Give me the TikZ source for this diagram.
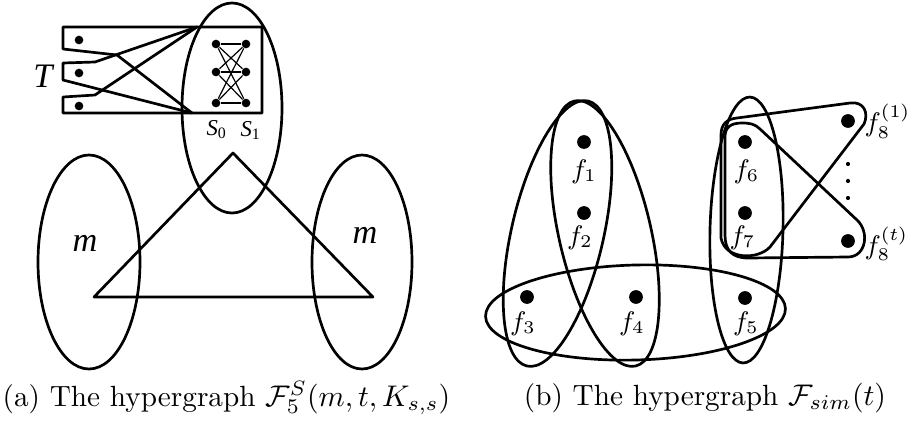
\documentclass[tikz,border=0pt]{standalone}
\usepackage{amsfonts,amsmath,amssymb}
\usepackage{fontspec}
\newfontfamily\figfont{Liberation Serif}
\usepackage{tikz}
\tikzset{
  hedge/.style={line width=0.9pt},
  kedge/.style={line width=0.4pt},
  vtx/.style={circle,fill,inner sep=0pt,minimum size=4.6pt},
  tvtx/.style={circle,fill,inner sep=0pt,minimum size=2.9pt},
  ddot/.style={circle,fill,inner sep=0pt,minimum size=1.4pt},
  flab/.style={inner sep=0pt,font=\fontsize{9}{10}\selectfont},
  slab/.style={inner sep=0pt,font=\fontsize{7.6}{9}\selectfont\figfont\itshape},
  mlab/.style={inner sep=0pt,font=\fontsize{11.5}{13}\selectfont\figfont\itshape},
  captext/.style={inner sep=1pt,font=\fontsize{9.8}{12}\selectfont}
}
\begin{document}
\begin{tikzpicture}[x=0.335pt,y=-0.335pt,line join=round]
\useasboundingbox (0,0) rectangle (915,431);
% (a) the hypergraph F_5^S
\draw[hedge] (232,108) ellipse [x radius=50,y radius=105];
\draw[hedge] (89,262) ellipse [x radius=51,y radius=107];
\draw[hedge] (362,262) ellipse [x radius=50,y radius=107];
\draw[hedge] (233,153)--(94,297)--(373,297)--cycle;
\node[mlab] (ml) at (85,243) {m};
\node[mlab] (mr) at (365,235) {m};
% tabs of T and the box of S
\draw[hedge] (197,27)--(262,27)--(262,113)--(63,113)--(63,97)--(95,95)--cycle;
\draw[hedge] (197,27)--(63,27)--(63,49)--(117,55)--(192,113);
\draw[hedge] (197,27)--(95,62)--(63,63)--(63,80)--(192,113);
\node[tvtx] (t1) at (79,40) {};
\node[tvtx] (t2) at (79,73) {};
\node[tvtx] (t3) at (79,106) {};
\node[mlab] (T) at (43,76) {T};
\foreach \y [count=\i] in {44,72,103}{
  \node[tvtx] (s0\i) at (216,\y) {};
  \node[tvtx] (s1\i) at (246,\y) {};
}
\foreach \i in {1,2,3}
  \foreach \j in {1,2,3}
    \draw[kedge] (s0\i)--(s1\j);
\node[slab] (S0) at (217,130) {S\textsubscript{\upshape 0}};
\node[slab] (S1) at (251,130) {S\textsubscript{\upshape 1}};
% (b) the hypergraph F_sim
\draw[hedge,rotate around={-13:(557.5,233.5)}] (557.5,233.5) ellipse [x radius=46,y radius=136];
\draw[hedge,rotate around={13:(605,233.5)}] (605,233.5) ellipse [x radius=46,y radius=136];
\draw[hedge,rotate around={1.5:(635.5,312.5)}] (635.5,312.5) ellipse [x radius=150,y radius=47.5];
\draw[hedge,rotate around={-1.5:(746.5,230)}] (746.5,230) ellipse [x radius=36.5,y radius=133];
\draw[hedge] (721,238)--(721,135) .. controls (721,124) and (727,119) .. (737,118)
  --(850,103) .. controls (864,101) and (869,113) .. (864,124)
  --(770,247) .. controls (758,260) and (725,260) .. (721,238);
\draw[hedge] (725,235)--(725,137) .. controls (725,127) and (731,123) .. (742,123)
  .. controls (750,123) and (755,124) .. (760,129)
  --(857,220) .. controls (870,232) and (866,257) .. (848,257)
  --(748,258) .. controls (732,258) and (725,250) .. (725,235);
\node[vtx] (f1) at (584,142) {};
\node[vtx] (f2) at (584,213) {};
\node[vtx] (f3) at (527,297) {};
\node[vtx] (f4) at (636,297) {};
\node[vtx] (f5) at (745,298) {};
\node[vtx] (f6) at (745,142) {};
\node[vtx] (f7) at (745,213) {};
\node[vtx] (f81) at (848,121) {};
\node[vtx] (f8t) at (848,241) {};
\node[flab] (l1) at (584,172) {$f_1$};
\node[flab] (l2) at (580,238) {$f_2$};
\node[flab] (l3) at (523,324) {$f_3$};
\node[flab] (l4) at (632,324) {$f_4$};
\node[flab] (l5) at (746,324) {$f_5$};
\node[flab] (l6) at (746.5,172) {$f_6$};
\node[flab] (l7) at (742.5,238) {$f_7$};
\node[flab,anchor=west] (l81) at (864,121) {$f_8^{(1)}$};
\node[flab,anchor=west] (l8t) at (864,244) {$f_8^{(t)}$};
\foreach \y in {164,181,198}
  \node[ddot] at (848,\y) {};
% captions
\node[captext] (capa) at (226.5,398) {(a) The hypergraph $\mathcal{F}_5^S(m,t,K_{s,s})$};
\node[captext] (capb) at (705,398) {(b) The hypergraph $\mathcal{F}_{sim}(t)$};
\end{tikzpicture}
\end{document}
